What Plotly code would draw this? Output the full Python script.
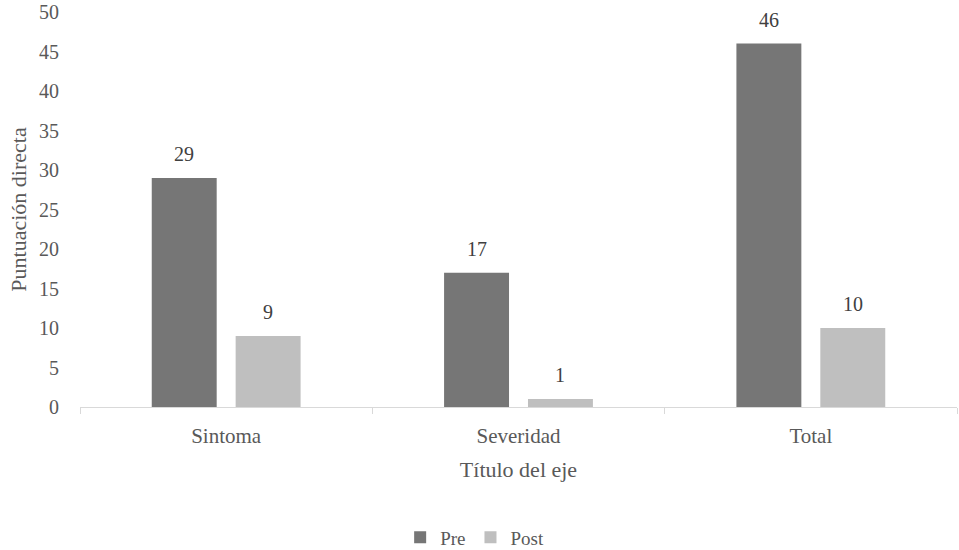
import plotly.graph_objects as go

categories = ["Sintoma", "Severidad", "Total"]
pre_values = [29, 17, 46]
post_values = [9, 1, 10]
y_ticks = [0, 5, 10, 15, 20, 25, 30, 35, 40, 45, 50]

PRE_COLOR = "#767676"
POST_COLOR = "#bfbfbf"
TEXT_GRAY = "#595959"
FONT = "Liberation Serif"

fig = go.Figure()
fig.add_trace(go.Bar(name="Pre", x=categories, y=pre_values, marker_color=PRE_COLOR,
                     marker_line_width=0))
fig.add_trace(go.Bar(name="Post", x=categories, y=post_values, marker_color=POST_COLOR,
                     marker_line_width=0))

# value labels above each bar
for trace_vals, offset in [(pre_values, -0.5), (post_values, 0.5)]:
    for cat_idx, v in enumerate(trace_vals):
        fig.add_annotation(
            x=cat_idx + offset * 0.287, y=v, xref="x", yref="y",
            text=str(v), showarrow=False, yshift=24,
            font=dict(family=FONT, size=20, color="#404040"),
        )

fig.update_layout(
    width=959, height=550,
    margin=dict(l=80, r=2, t=12, b=143, autoexpand=False),
    paper_bgcolor="white", plot_bgcolor="white",
    barmode="group", bargap=0.426, bargroupgap=0.226,
    font=dict(family=FONT, size=20, color=TEXT_GRAY),
    showlegend=True,
    legend=dict(orientation="h", x=0.45, xanchor="center", y=-0.33, yanchor="middle",
                font=dict(family=FONT, size=19, color=TEXT_GRAY),
                itemwidth=30, traceorder="normal"),
)
fig.update_xaxes(
    showline=True, linecolor="#d9d9d9", linewidth=1,
    ticks="outside", tickson="boundaries", ticklen=6, tickcolor="#d9d9d9",
    ticklabelstandoff=10,
    tickfont=dict(family=FONT, size=21, color=TEXT_GRAY),
    title=dict(text="Título del eje", font=dict(family=FONT, size=22, color=TEXT_GRAY),
               standoff=14),
    showgrid=False, zeroline=False,
)
fig.update_yaxes(
    range=[0, 50], tickvals=y_ticks, showgrid=False, zeroline=False, showline=False,
    ticks="", ticklabelstandoff=20,
    tickfont=dict(family=FONT, size=20, color=TEXT_GRAY),
    title=dict(text="Puntuación directa", font=dict(family=FONT, size=22, color=TEXT_GRAY),
               standoff=6),
)

fig.write_html("out.html")
